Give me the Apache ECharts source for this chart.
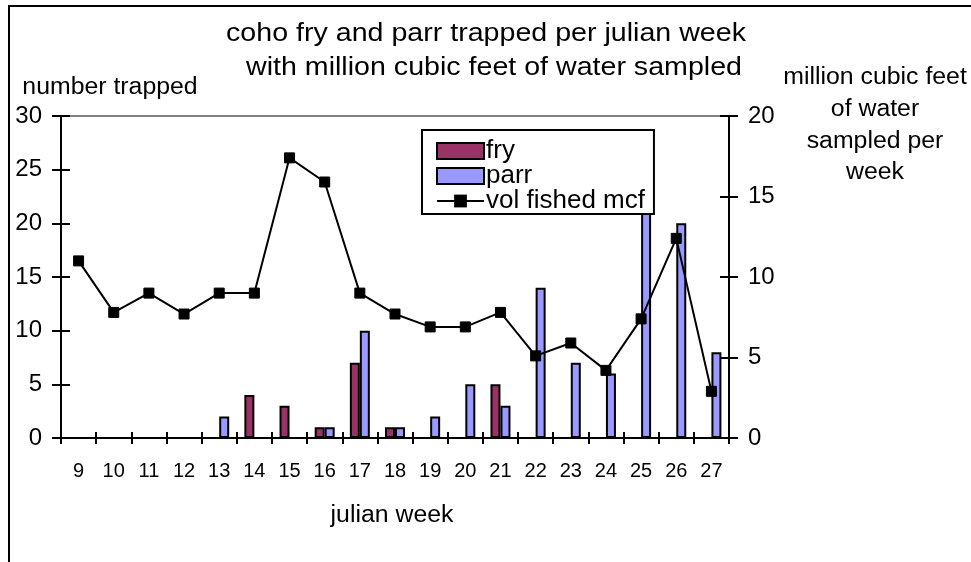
<!DOCTYPE html>
<html>
<head>
<meta charset="utf-8">
<script src="https://cdn.jsdelivr.net/npm/echarts@6/dist/echarts.min.js"></script>
<style>
  html, body { margin: 0; padding: 0; background: #fff; }
  #chart { width: 971px; height: 562px; }
</style>
</head>
<body>
<div id="chart"></div>
<script>
const weeks = ["9", "10", "11", "12", "13", "14", "15", "16", "17", "18", "19", "20", "21", "22", "23", "24", "25", "26", "27"];
const fry = [0, 0, 0, 0, 0, 4, 3, 1, 7, 1, 0, 0, 5, 0, 0, 0, 0, 0, 0];
const parr = [0, 0, 0, 0, 2, 0, 0, 1, 10, 1, 2, 5, 3, 14, 7, 6, 23, 20, 8];
const volFished = [11, 7.8, 9, 7.7, 9, 9, 17.4, 15.9, 9, 7.7, 6.9, 6.9, 7.8, 5.1, 5.9, 4.2, 7.4, 12.4, 2.9];
const leftTicks = [0, 30, 5];
const rightTicks = [0, 20, 5];

const font = "Liberation Sans";
const chart = echarts.init(document.getElementById("chart"), null, { renderer: "canvas" });

const text = (x, y, str, size, sx) => ({
  type: "text",
  x: x,
  y: y,
  scaleX: sx || 1,
  style: {
    text: str,
    font: `${size}px "${font}"`,
    fill: "#000",
    align: "center",
    verticalAlign: "middle",
  },
});

const labelStyle = (size) => ({ fontFamily: font, fontSize: size, color: "#000" });
const tickStyle = { color: "#000", width: 2 };

// second copy of each axis only draws the inner half of the crossing ticks
const valueAxis = (range, pos, inner) => ({
  type: "value",
  min: range[0],
  max: range[1],
  interval: range[2],
  position: pos,
  axisLine: { show: !inner, lineStyle: tickStyle },
  axisTick: { show: true, inside: inner, length: 9, lineStyle: tickStyle },
  axisLabel: inner ? { show: false } : { margin: 19, ...labelStyle(24) },
  splitLine: { show: false },
});

const yLeft = valueAxis(leftTicks, "left", false);
yLeft.splitLine = {
  show: true,
  lineStyle: { color: ["transparent", "transparent", "transparent", "transparent", "transparent", "transparent", "#808080"], width: 2 },
};

chart.setOption({
  backgroundColor: "#fff",
  animation: false,
  grid: { left: 61, right: 242, top: 116, bottom: 124 },
  legend: {
    left: 422,
    top: 130,
    orient: "vertical",
    padding: [8, 9, 0, 14],
    itemGap: -1,
    itemWidth: 47,
    itemHeight: 16,
    backgroundColor: "#fff",
    borderColor: "#000",
    borderWidth: 2,
    borderRadius: 0,
    textStyle: { ...labelStyle(26), lineHeight: 24, padding: [0, 0, 0, -3] },
    data: [
      { name: "fry", icon: "rect" },
      { name: "parr", icon: "rect" },
      { name: "vol fished mcf" },
    ],
  },
  xAxis: [
    {
      type: "category",
      data: weeks,
      axisLine: { lineStyle: tickStyle },
      axisTick: { show: true, interval: 0, length: 6, lineStyle: tickStyle },
      axisLabel: { interval: 0, margin: 23, ...labelStyle(20) },
      splitLine: { show: false },
    },
    {
      type: "category",
      data: weeks,
      position: "bottom",
      axisLine: { show: false },
      axisTick: { show: true, inside: true, interval: 0, length: 6, lineStyle: tickStyle },
      axisLabel: { show: false },
      splitLine: { show: false },
    },
  ],
  yAxis: [
    yLeft,
    valueAxis(rightTicks, "right", false),
    valueAxis(leftTicks, "left", true),
    valueAxis(rightTicks, "right", true),
  ],
  series: [
    {
      name: "fry",
      type: "bar",
      data: fry,
      barWidth: 10,
      barGap: "0%",
      itemStyle: { color: "#993366", borderColor: "#000", borderWidth: 2 },
    },
    {
      name: "parr",
      type: "bar",
      data: parr,
      barWidth: 10,
      barGap: "0%",
      itemStyle: { color: "#9999ff", borderColor: "#000", borderWidth: 2 },
    },
    {
      name: "vol fished mcf",
      type: "line",
      yAxisIndex: 1,
      data: volFished,
      symbol: "rect",
      symbolSize: 10,
      lineStyle: { color: "#000", width: 2 },
      itemStyle: { color: "#000", borderColor: "#000" },
      z: 3,
    },
  ],
  graphic: [
    {
      type: "rect",
      shape: { x: 9, y: 6, width: 1200, height: 800 },
      style: { fill: "none", stroke: "#000", lineWidth: 2 },
      silent: true,
    },
    text(486, 34, "coho fry and parr trapped per julian week", 26, 1.1),
    text(494, 68, "with million cubic feet of water sampled", 26, 1.1),
    text(110, 88, "number trapped", 23, 1.08),
    text(875, 78, "million cubic feet", 23, 1.08),
    text(875, 110, "of water", 23, 1.08),
    text(875, 142, "sampled per", 23, 1.08),
    text(875, 173, "week", 23, 1.08),
    text(392, 516, "julian week", 23, 1.08),
  ],
});
</script>
</body>
</html>
